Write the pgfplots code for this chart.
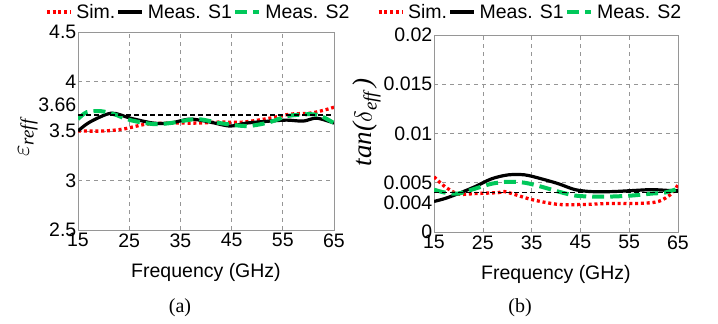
\documentclass[border=0pt]{standalone}
\usepackage{fontspec}
\setmainfont{Liberation Sans}
\newfontfamily\seriffont{Liberation Serif}
\usepackage{pgfplots}
\pgfplotsset{compat=1.18}
\definecolor{mgreen}{RGB}{0,200,90}
\definecolor{gridgray}{RGB}{150,150,150}
\newcommand\fs{\fontsize{19.5}{23}\selectfont}
\newcommand\lfs{\fontsize{27}{31}\selectfont}
\pgfplotsset{
 common/.style={
  scale only axis, xmin=15, xmax=65, xtick={15,25,...,65},
  scaled y ticks=false,
  grid=major,
  major grid style={dash pattern=on 4pt off 4pt, gridgray, line width=0.6pt},
  axis line style={gridgray, line width=0.8pt},
  major tick length=0pt,
  tick label style={font=\fs},
  /pgf/number format/assume math mode=true,
  yticklabel style={inner xsep=1.5pt},
  xlabel={Frequency (GHz)},
  xlabel style={font=\fs, at={(axis description cs:0.5,0)}, anchor=center, yshift=-42pt},
  legend columns=3,
  legend style={draw=none, fill=none, font=\fs, anchor=center, inner sep=0pt,
    nodes={inner sep=1.5pt},
    /tikz/every odd column/.append style={column sep=3pt}},
  legend image code/.code={\draw[#1] (0cm,0cm) -- (0.82cm,0cm);},
 },
 simline/.style={red, line width=3.3pt, dash pattern=on 3pt off 2.8pt, smooth},
 s1line/.style={black, line width=3.2pt, smooth},
 s2line/.style={mgreen, line width=4pt, dash pattern=on 12pt off 6pt, smooth},
 refline/.style={black, line width=1.8pt, dash pattern=on 5pt off 3pt},
}
\begin{document}
\begin{tikzpicture}
\useasboundingbox (0,0) rectangle (718pt,324pt);
\begin{axis}[common, at={(78pt,94pt)}, anchor=south west,
  width=256pt, height=198pt,
  ymin=2.5, ymax=4.5, ytick={2.5,3,3.5,4,4.5},
  yticklabels={2.5,3,3.5,4,4.5},
  extra y ticks={3.66}, extra y tick labels={3.66},
  extra y tick style={grid=none, yticklabel style={yshift=10pt}},
  ylabel={$\varepsilon$\textsubscript{\seriffont\itshape reff}},
  ylabel style={font=\lfs, at={(axis description cs:0,0.465)}, anchor=center, yshift=50pt},
  legend style={at={(0.469,1.101)}},
]
\addplot[simline] coordinates {(15,3.50) (20,3.50) (23.9,3.52) (28.4,3.57) (33,3.58) (38.2,3.58) (42.7,3.59) (47.3,3.59) (52.5,3.63) (56.4,3.67) (60.3,3.68) (63,3.71) (65,3.74)};
\addlegendentry{Sim.}
\addplot[s1line] coordinates {(15,3.50) (17.3,3.59) (21.5,3.68) (25.2,3.63) (29.7,3.58) (33,3.58) (36.9,3.62) (40.8,3.59) (44.7,3.55) (47.9,3.58) (52.5,3.60) (55.8,3.61) (59,3.60) (61.6,3.63) (65,3.58)};
\addlegendentry{Meas. S1}
\addplot[s2line] coordinates {(15,3.62) (16.7,3.69) (19.5,3.70) (22,3.67) (25.2,3.61) (29.7,3.57) (33,3.58) (38.2,3.62) (42.7,3.58) (48,3.55) (52.5,3.59) (55.8,3.65) (60.3,3.67) (62.5,3.65) (65,3.58)};
\addlegendentry{Meas. S2}
\addplot[refline, forget plot] coordinates {(15,3.66) (65,3.66)};
\end{axis}
\begin{axis}[common, at={(434pt,92pt)}, anchor=south west,
  width=244pt, height=197pt,
  ymin=0, ymax=0.02, ytick={0,0.005,0.01,0.015,0.02},
  yticklabels={0,0.005,0.01,0.015,0.02},
  extra y ticks={0.004}, extra y tick labels={0.004},
  extra y tick style={grid=none, yticklabel style={yshift=-10pt}},
  ylabel={{\seriffont\itshape tan(}$\delta$\textsubscript{\seriffont\itshape eff}{\seriffont\itshape\,)}},
  ylabel style={font=\lfs, at={(axis description cs:0,0.558)}, anchor=center, yshift=67pt},
  legend style={at={(0.393,1.117)}},
]
\addplot[simline] coordinates {(15,0.0056) (17.25,0.0046) (20,0.00385) (23.4,0.0039) (28.2,0.0040) (29.5,0.0041) (35,0.0033) (40.5,0.0028) (46,0.0028) (51.4,0.0029) (56.9,0.0029) (61,0.0031) (63.7,0.0039) (65,0.0048)};
\addlegendentry{Sim.}
\addplot[s1line] coordinates {(15,0.0031) (17.25,0.0034) (20,0.0039) (23.4,0.0046) (26.8,0.0054) (30.2,0.0058) (33.6,0.0058) (37,0.0054) (40.5,0.0049) (43.9,0.0043) (47.3,0.0041) (51.4,0.0041) (55.5,0.0042) (59.6,0.0043) (63.7,0.0042) (65,0.0042)};
\addlegendentry{Meas. S1}
\addplot[s2line] coordinates {(15,0.0043) (17.25,0.0040) (20,0.0039) (23.4,0.0044) (26.8,0.0049) (30.2,0.0051) (33.6,0.0050) (37,0.0046) (40.5,0.0041) (43.9,0.0037) (47.3,0.0036) (51.4,0.0036) (55.5,0.0037) (59.6,0.0039) (62.3,0.0040) (65,0.0044)};
\addlegendentry{Meas. S2}
\addplot[refline, forget plot] coordinates {(15,0.004) (65,0.004)};
\end{axis}
\node[font=\seriffont\fontsize{20}{24}\selectfont] at (180pt,16pt) {(a)};
\node[font=\seriffont\fontsize{20}{24}\selectfont] at (520pt,16pt) {(b)};
\end{tikzpicture}
\end{document}
